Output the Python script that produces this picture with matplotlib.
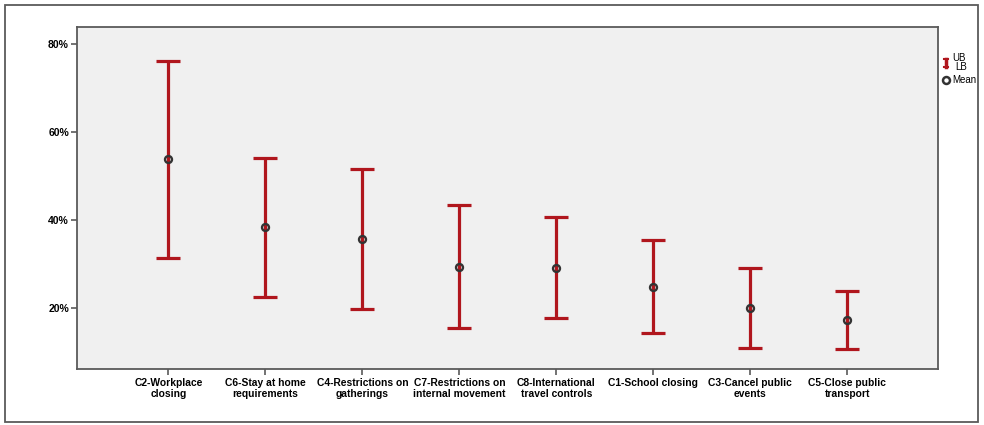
import numpy as np
import matplotlib.pyplot as plt
from matplotlib.patches import Rectangle
from matplotlib.lines import Line2D

# categorias y valores (porcentaje)
categorias = ["C2-Workplace\nclosing", "C6-Stay at home\nrequirements",
              "C4-Restrictions on\ngatherings", "C7-Restrictions on\ninternal movement",
              "C8-International\ntravel controls", "C1-School closing",
              "C3-Cancel public\nevents", "C5-Close public\ntransport"]
media = [53.9, 38.4, 35.75, 29.45, 29.2, 24.8, 20.1, 17.4]
ub = [76.1, 54.2, 51.7, 43.5, 40.7, 35.5, 29.2, 24.0]
lb = [31.4, 22.6, 19.9, 15.5, 17.8, 14.3, 11.0, 10.8]
yticks = [20, 40, 60, 80]

rojo = "#b0161d"
gris = "#5a5a5a"
fuente = ["Liberation Sans", "DejaVu Sans"]
plt.rcParams["font.family"] = fuente

W, H = 984, 425
fig = plt.figure(figsize=(W / 100, H / 100), dpi=100)
fig.patch.set_facecolor("white")

# marco exterior
fig.add_artist(Rectangle((5 / W, 3 / H), 973 / W, 417 / H, transform=fig.transFigure,
                         fill=False, edgecolor=gris, linewidth=1.3))

ax = fig.add_axes([77.3 / W, (H - 369.3) / H, (938.3 - 77.3) / W, (369.3 - 26.7) / H])
ax.set_facecolor("#f0f0f0")
for s in ax.spines.values():
    s.set_color(gris)
    s.set_linewidth(1.3)

x = np.arange(len(categorias))
m = np.array(media)
err = [m - np.array(lb), np.array(ub) - m]
ax.errorbar(x, m, yerr=err, fmt="none", ecolor=rojo, elinewidth=2.3,
            capsize=8.6, capthick=2.3)
ax.plot(x, m, "o", markersize=5, markerfacecolor="none", markeredgecolor="#333333",
        markeredgewidth=1.7)

ax.set_xlim(-0.94, 7.94)
ax.set_ylim(6.14, 84.0)
ax.set_yticks(yticks)
ax.set_yticklabels([f"{v}%" for v in yticks], fontsize=7.5, fontweight="bold")
ax.set_xticks(x)
ax.set_xticklabels(categorias, fontsize=7.4, fontweight="bold", linespacing=1.2)
ax.tick_params(axis="both", color=gris, length=4, width=1.2, pad=2)

# leyenda
fig.add_artist(Line2D([946 / W, 946 / W], [(H - 59) / H, (H - 67) / H], color=rojo,
                      linewidth=2.5, transform=fig.transFigure))
fig.add_artist(Line2D([944 / W, 948 / W], [(H - 59) / H, (H - 59) / H], color=rojo,
                      linewidth=1.5, transform=fig.transFigure))
fig.add_artist(Line2D([944 / W, 948 / W], [(H - 67) / H, (H - 67) / H], color=rojo,
                      linewidth=1.5, transform=fig.transFigure))
fig.text(952 / W, (H - 58) / H, "UB", fontsize=7, va="center", family=fuente)
fig.text(955 / W, (H - 67) / H, "LB", fontsize=7, va="center", family=fuente)
fig.add_artist(Line2D([946 / W], [(H - 80) / H], marker="o", markersize=5,
                      markerfacecolor="none", markeredgecolor="#333333",
                      markeredgewidth=1.8, transform=fig.transFigure))
fig.text(952 / W, (H - 80) / H, "Mean", fontsize=7, va="center", family=fuente)

fig.savefig("out.png", dpi=100)
